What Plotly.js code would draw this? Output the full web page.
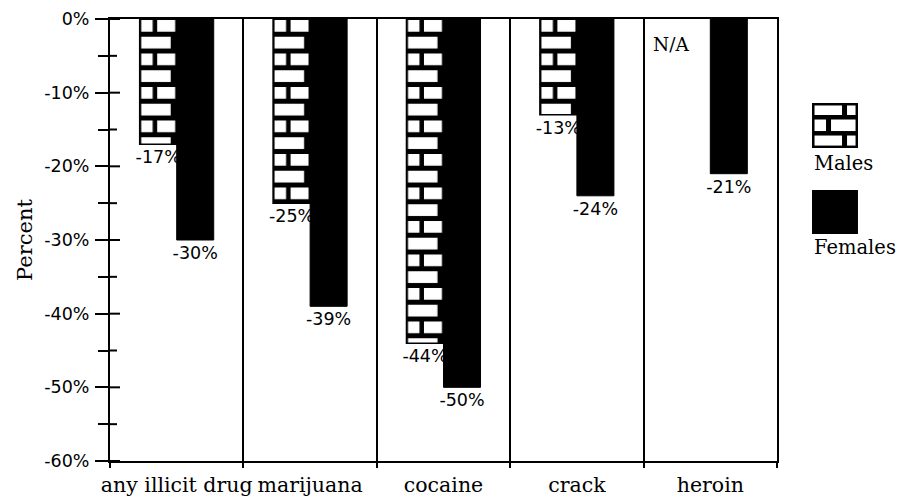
<!DOCTYPE html>
<html>
<head>
<meta charset="utf-8">
<script src="https://cdn.plot.ly/plotly-3.0.1.min.js"></script>
<style>
  html, body { margin: 0; padding: 0; background: #fff; }
  #chart { width: 900px; height: 498px; }
</style>
</head>
<body>
<div id="chart"></div>
<script>
// ---- data ----
const categories = ['any illicit drug', 'marijuana', 'cocaine', 'crack', 'heroin'];
const males = [-17, -25, -44, -13, null];
const females = [-30, -39, -50, -24, -21];
const maleLabels = ['-17%', '-25%', '-44%', '-13%', ''];
const femaleLabels = ['-30%', '-39%', '-50%', '-24%', '-21%'];
const yTickVals = [0, -10, -20, -30, -40, -50, -60];
const yTickText = ['0%', '-10%', '-20%', '-30%', '-40%', '-50%', '-60%'];
const naCategory = 'heroin';
const naText = 'N/A';
const seriesNames = ['Males', 'Females'];

const SANS = 'DejaVu Sans, sans-serif';
const SERIF = 'DejaVu Serif, serif';

const data = [
  {
    type: 'bar', name: seriesNames[0], x: categories, y: males,
    text: maleLabels, textposition: 'outside', constraintext: 'none', cliponaxis: false,
    textfont: { family: SANS, size: 17.5, color: '#000' },
    marker: { color: '#ffffff', line: { color: '#000', width: 1.5 } },
    hoverinfo: 'skip'
  },
  {
    type: 'bar', name: seriesNames[1], x: categories, y: females,
    text: femaleLabels, textposition: 'outside', constraintext: 'none', cliponaxis: false,
    textfont: { family: SANS, size: 17.5, color: '#000' },
    marker: { color: '#000000', line: { color: '#000', width: 1 } },
    hoverinfo: 'skip'
  }
];

const brickLegendSvg =
  "<svg xmlns='http://www.w3.org/2000/svg' width='46' height='45' viewBox='0 0 46 45'>" +
  "<rect x='0' y='0' width='46' height='45' fill='black'/>" +
  "<rect x='2.5' y='2.5' width='27.5' height='9.5' fill='white'/>" +
  "<rect x='35' y='2.5' width='8.5' height='9.5' fill='white'/>" +
  "<rect x='2.5' y='16.5' width='11.5' height='11.5' fill='white'/>" +
  "<rect x='19' y='16.5' width='24.5' height='11.5' fill='white'/>" +
  "<rect x='2.5' y='32.5' width='27.5' height='10' fill='white'/>" +
  "<rect x='35' y='32.5' width='8.5' height='10' fill='white'/>" +
  "</svg>";

// inner halves of the y ticks (the ticks cross the axis line in the original)
const PLOT_W = 900 - 110 - 123;
const tickShapes = [];
yTickVals.forEach((v, i) => {
  tickShapes.push({ type: 'line', xref: 'paper', yref: 'y', x0: 0, x1: 10 / PLOT_W, y0: v, y1: v,
    line: { color: '#000', width: 2 } });
  if (i < yTickVals.length - 1) {
    const m = (v + yTickVals[i + 1]) / 2;
    tickShapes.push({ type: 'line', xref: 'paper', yref: 'y', x0: 0, x1: 7 / PLOT_W, y0: m, y1: m,
      line: { color: '#000', width: 2 } });
  }
});

const layout = {
  width: 900, height: 498,
  margin: { l: 110, r: 123, t: 19, b: 37 },
  paper_bgcolor: '#fff', plot_bgcolor: '#fff',
  barmode: 'group', bargap: 0.445, bargroupgap: 0,
  showlegend: false,
  font: { family: SERIF, color: '#000' },
  xaxis: {
    type: 'category', tickson: 'boundaries', tickangle: 0,
    showline: true, mirror: true, linecolor: '#000', linewidth: 2,
    showgrid: true, gridcolor: '#000', gridwidth: 2,
    ticks: 'outside', ticklen: 5, tickwidth: 2, tickcolor: '#000',
    ticklabelstandoff: 4,
    tickfont: { family: SERIF, size: 20.5, color: '#000' },
    fixedrange: true
  },
  yaxis: {
    range: [-60, 0], tickmode: 'array', tickvals: yTickVals, ticktext: yTickText,
    showline: true, mirror: true, linecolor: '#000', linewidth: 2,
    showgrid: false, zeroline: false,
    ticks: 'outside', ticklen: 13, tickwidth: 2, tickcolor: '#000',
    ticklabelstandoff: 2,
    minor: { tickmode: 'linear', tick0: 0, dtick: 5, ticks: 'outside', ticklen: 10, tickwidth: 2, tickcolor: '#000', showgrid: false },
    tickfont: { family: SANS, size: 17.5, color: '#000' },
    title: { text: 'Percent', font: { family: SERIF, size: 21, color: '#000' }, standoff: 6 },
    fixedrange: true
  },
  annotations: [
    { xref: 'x', yref: 'y', x: naCategory, y: -3.5, xshift: -39, text: naText, showarrow: false,
      font: { family: SERIF, size: 18.5, color: '#000' } },
    { xref: 'paper', yref: 'paper', x: 1.0525, y: 0.674, xanchor: 'left', yanchor: 'middle',
      text: seriesNames[0], showarrow: false, font: { family: SERIF, size: 19.5, color: '#000' } },
    { xref: 'paper', yref: 'paper', x: 1.0525, y: 0.482, xanchor: 'left', yanchor: 'middle',
      text: seriesNames[1], showarrow: false, font: { family: SERIF, size: 19.5, color: '#000' } }
  ],
  shapes: [
    { type: 'rect', xref: 'paper', yref: 'paper', x0: 1.0525, x1: 1.1214, y0: 0.5136, y1: 0.613,
      fillcolor: '#000', line: { width: 0 } }
  ].concat(tickShapes),
  images: [
    { source: 'data:image/svg+xml;charset=utf-8,' + encodeURIComponent(brickLegendSvg),
      xref: 'paper', yref: 'paper', x: 1.0525, y: 0.810, sizex: 0.069, sizey: 0.102,
      xanchor: 'left', yanchor: 'top', sizing: 'stretch', layer: 'above' }
  ]
};

const NS = 'http://www.w3.org/2000/svg';
function mk(tag, attrs, parent) {
  const el = document.createElementNS(NS, tag);
  for (const k in attrs) el.setAttribute(k, attrs[k]);
  if (parent) parent.appendChild(el);
  return el;
}

Plotly.newPlot('chart', data, layout, { staticPlot: true }).then(gd => {
  const svg = gd.querySelector('svg.main-svg');
  let defs = svg.querySelector('defs');
  if (!defs) defs = mk('defs', {}, svg);
  const traces = gd.querySelectorAll('.barlayer .trace');
  if (!traces.length) return;
  const paths = traces[0].querySelectorAll('.point path');
  paths.forEach((p, i) => {
    const bb = p.getBBox();
    if (!bb.width || !bb.height) return;
    const w = bb.width, H = 33.5;
    const pat = mk('pattern', { id: 'brick' + i, patternUnits: 'userSpaceOnUse',
      x: bb.x, y: bb.y, width: w, height: H }, defs);
    mk('rect', { x: 0, y: 0, width: w, height: H, fill: '#000' }, pat);
    // row A: two bricks
    mk('rect', { x: 1.5, y: 1, width: 11.5, height: 11.7, fill: '#fff' }, pat);
    mk('rect', { x: 17.5, y: 1, width: Math.max(w - 19, 1), height: 11.7, fill: '#fff' }, pat);
    // row B: one long brick
    mk('rect', { x: 1.5, y: 17.75, width: Math.max(w - 7.5, 1), height: 11.75, fill: '#fff' }, pat);
    p.style.fill = 'url(#brick' + i + ')';
    p.style.fillOpacity = 1;
  });
});
</script>
</body>
</html>
